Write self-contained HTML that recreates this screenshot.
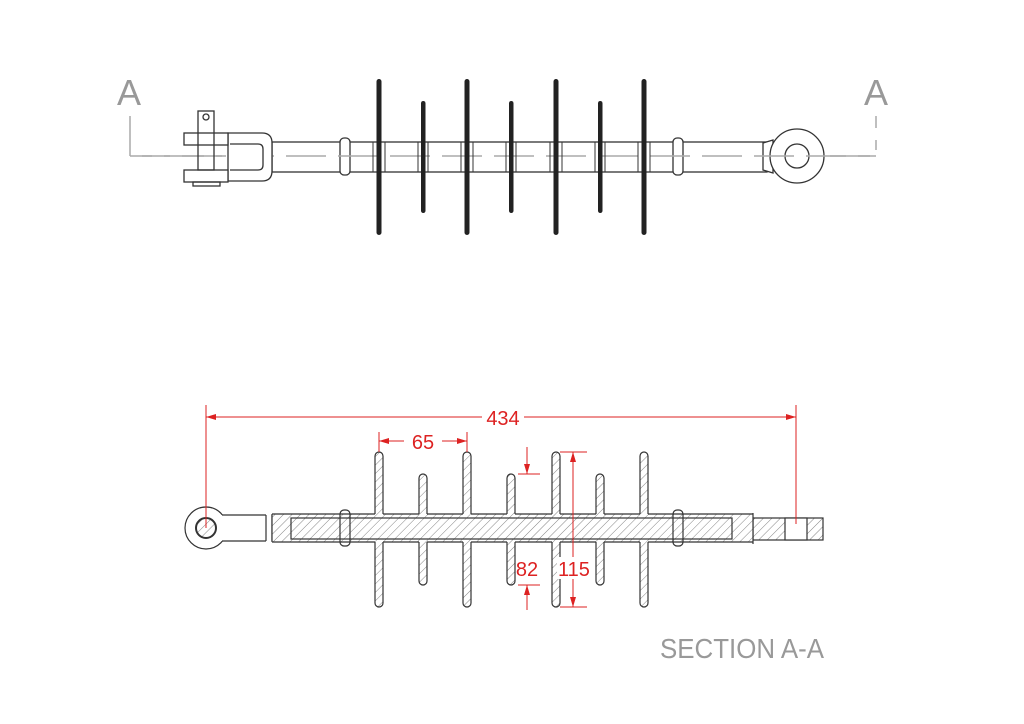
<!DOCTYPE html>
<html><head><meta charset="utf-8"><style>html,body{margin:0;padding:0;background:#fff}svg{display:block}</style></head>
<body>
<svg width="1024" height="724" viewBox="0 0 1024 724" xmlns="http://www.w3.org/2000/svg">
<defs>
<pattern id="h" width="6" height="6" patternUnits="userSpaceOnUse" patternTransform="rotate(45)">
<rect width="6" height="6" fill="#fff"/><line x1="0" y1="0" x2="0" y2="6" stroke="#666" stroke-width="0.8"/>
</pattern>
</defs>
<!-- TOP VIEW -->
<g fill="none" stroke="#333" stroke-width="1.3">
<path d="M130 116 V156 H876 V116" stroke="#aaa" stroke-dasharray="40 12 10 12" stroke-width="1.5"/>
<rect x="272" y="142" width="495" height="30" fill="#fff"/>
<rect x="340" y="138" width="10" height="37" rx="4" fill="#fff"/>
<rect x="673" y="138" width="10" height="37" rx="4" fill="#fff"/>
<path d="M763 143 L773 140 V173 L763 170 Z" fill="#fff"/>
<circle cx="797" cy="156" r="27" fill="#fff"/>
<circle cx="797" cy="156" r="12"/>
<line x1="130" y1="156" x2="876" y2="156" stroke="#aaa" stroke-dasharray="40 12" stroke-width="1.5"/>
<path d="M228 133 H262 Q272 133 272 143 V171 Q272 181 262 181 H228 Z" fill="#fff"/>
<path d="M230 144 H258 Q263 144 263 149 V165 Q263 170 258 170 H230"/>
<rect x="184" y="133" width="44" height="12" fill="#fff"/>
<rect x="184" y="170" width="44" height="12" fill="#fff"/>
<rect x="193" y="182" width="27" height="4"/>
<rect x="198" y="111" width="16" height="59"/>
<circle cx="206" cy="117" r="3"/>
<g stroke-width="1">
<rect x="373" y="142" width="12" height="30"/><rect x="461" y="142" width="12" height="30"/>
<rect x="550" y="142" width="12" height="30"/><rect x="638" y="142" width="12" height="30"/>
<rect x="418" y="142" width="10" height="30"/><rect x="506" y="142" width="10" height="30"/>
<rect x="595" y="142" width="10" height="30"/>
</g>
</g>
<g fill="#222">
<rect x="376.5" y="79" width="5" height="156" rx="2.5"/>
<rect x="464.5" y="79" width="5" height="156" rx="2.5"/>
<rect x="553.5" y="79" width="5" height="156" rx="2.5"/>
<rect x="641.5" y="79" width="5" height="156" rx="2.5"/>
<rect x="421" y="101" width="4.5" height="112" rx="2.2"/>
<rect x="509" y="101" width="4.5" height="112" rx="2.2"/>
<rect x="598" y="101" width="4.5" height="112" rx="2.2"/>
</g>
<g font-family="Liberation Sans, sans-serif" fill="#999" font-size="36">
<text x="117" y="105">A</text><text x="864" y="105">A</text>
</g>
<!-- SECTION -->
<g stroke="#333" stroke-width="1.2" fill="url(#h)">
<rect x="375" y="452" width="8" height="155" rx="4"/>
<rect x="463" y="452" width="8" height="155" rx="4"/>
<rect x="552" y="452" width="8" height="155" rx="4"/>
<rect x="640" y="452" width="8" height="155" rx="4"/>
<rect x="419" y="474" width="8" height="111" rx="4"/>
<rect x="507" y="474" width="8" height="111" rx="4"/>
<rect x="596" y="474" width="8" height="111" rx="4"/>
<circle cx="206" cy="528" r="21" fill="#fff"/>
<rect x="220" y="515" width="46" height="26" fill="#fff" stroke="none"/>
<path d="M222 515 H266 M222 541 H266 M266 515 V541 M272 515 V541" fill="none"/>
<circle cx="206" cy="528" r="10" stroke-width="2"/>
<rect x="753" y="518" width="70" height="22"/>
<rect x="785" y="518" width="22" height="22" fill="#fff"/>
<rect x="272" y="514" width="481" height="28" stroke="none"/>
<path d="M272 514 V542 M753 513 V544 M272 514 H375 M383 514 H419 M427 514 H463 M471 514 H507 M515 514 H552 M560 514 H596 M604 514 H640 M648 514 H753 M272 542 H375 M383 542 H419 M427 542 H463 M471 542 H507 M515 542 H552 M560 542 H596 M604 542 H640 M648 542 H753" fill="none"/>
<rect x="291" y="518" width="441" height="21"/>
<rect x="340" y="510" width="10" height="36" rx="4" fill="none"/>
<rect x="673" y="510" width="10" height="36" rx="4" fill="none"/>
</g>
<!-- dimensions -->
<g stroke="#d22" stroke-width="1" fill="none">
<path d="M206 405 V528 M796 405 V524 M206 417 H796"/>
<path d="M379 432 V452 M467 432 V452 M379 441 H467"/>
<path d="M573 452 V607 M560 452 H587 M560 607 H587"/>
<path d="M527 447 V474 M518 474 H540 M527 585 V610 M518 585 H540"/>
</g>
<g fill="#d22">
<path d="M206 417 l10 -3 v6z M796 417 l-10 -3 v6z M379 441 l10 -3 v6z M467 441 l-10 -3 v6z M573 452 l-3 10 h6z M573 607 l-3 -10 h6z M527 474 l-3 -10 h6z M527 585 l-3 10 h6z"/>
</g>
<g font-family="Liberation Sans, sans-serif" fill="#d22" font-size="20" text-anchor="middle">
<rect x="482" y="406" width="42" height="22" fill="#fff"/>
<text x="503" y="425">434</text>
<rect x="404" y="431" width="38" height="20" fill="#fff"/>
<text x="423" y="449">65</text>
<rect x="557" y="557" width="34" height="22" fill="#fff"/>
<text x="574" y="576">115</text>
<text x="527" y="576">82</text>
</g>
<text x="660" y="658" font-family="Liberation Sans, sans-serif" font-size="28" fill="#999" textLength="164" lengthAdjust="spacingAndGlyphs">SECTION A-A</text>
</svg>
</body></html>
